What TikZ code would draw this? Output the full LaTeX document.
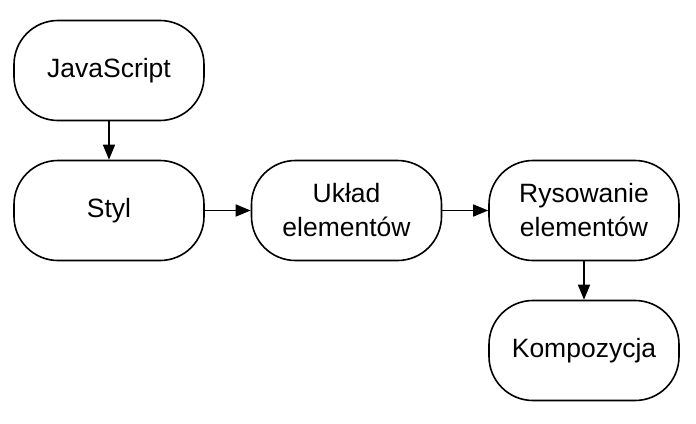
\documentclass[tikz,border=0pt]{standalone}
\usepackage{fontspec}
\setmainfont{Liberation Sans}
\usetikzlibrary{arrows.meta}
\begin{document}
\begin{tikzpicture}[x=1pt,y=-1pt,
  proc/.style={draw=black, line width=1.6pt, rounded corners=44pt, minimum width=190pt, minimum height=100pt, align=center, font=\fontsize{26.5}{34}\selectfont, inner sep=0pt},
  conn/.style={line width=1.6pt, -{Triangle[length=15pt,width=12pt]}}]
\useasboundingbox (0,0) rectangle (696,423);
\node[proc] (js) at (109,70.5) {JavaScript};
\node[proc] (styl) at (109,210.5) {Styl};
\node[proc] (uklad) at (346.5,210.5) {Układ\\elementów};
\node[proc] (rys) at (584,210.5) {Rysowanie\\elementów};
\node[proc] (komp) at (584,350.5) {Kompozycja};
\draw[conn] (js) -- (styl);
\draw[conn] (styl) -- (uklad);
\draw[conn] (uklad) -- (rys);
\draw[conn] (rys) -- (komp);
\end{tikzpicture}
\end{document}
